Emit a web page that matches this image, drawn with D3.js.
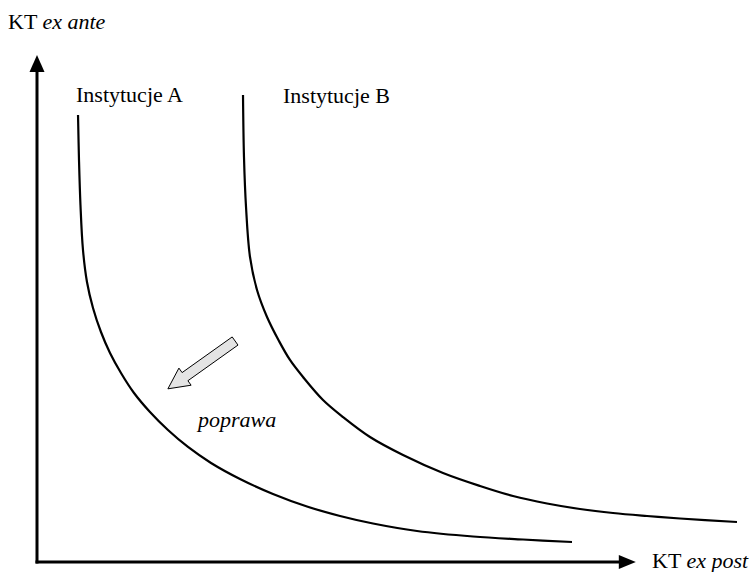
<!DOCTYPE html>
<html><head><meta charset="utf-8">
<script src="https://cdn.jsdelivr.net/npm/d3@7"></script>
<style>
svg text, svg tspan { font-family: "Liberation Serif", Tinos, "Times New Roman", serif !important; }
</style>
</head><body style="margin:0">
<script>
// Data (abstract units 0..100 on both axes)
const curveA_x = [5.86, 6.0, 6.21, 6.57, 7.14, 8.0, 9.14, 10.43, 12.0, 13.86, 16.14, 18.71, 21.57, 24.86, 29.0, 33.71, 38.57, 43.29, 48.0, 54.29, 62.29, 69.43, 76.43];
const curveA_y = [85.96, 77.31, 68.65, 60.0, 53.85, 48.85, 44.23, 40.19, 36.35, 32.5, 28.85, 25.38, 22.12, 19.04, 15.96, 13.08, 10.67, 8.85, 7.4, 5.96, 4.9, 4.33, 3.85];
const curveB_x = [29.43, 29.57, 29.86, 30.43, 31.43, 32.86, 34.57, 36.14, 38.0, 40.86, 43.71, 47.57, 52.29, 58.0, 63.29, 68.0, 72.86, 77.57, 82.29, 87.14, 91.86, 100];
const curveB_y = [89.81, 77.88, 68.27, 58.65, 52.31, 47.12, 42.5, 38.85, 35.58, 31.15, 27.88, 24.04, 20.58, 17.12, 14.62, 12.69, 11.25, 10.19, 9.42, 8.85, 8.37, 7.69];
const seriesNames = ["Instytucje A", "Instytucje B"];
const arrowFrom = [28.3, 42.5];
const arrowTo = [18.7, 33.3];
const axisMax = [85.4, 97.3];

const W = 750, H = 572;
const svg = d3.select("body").append("svg").attr("width", W).attr("height", H).style("display", "block")
  .attr("font-family", "Liberation Serif");
const x = d3.scaleLinear().domain([0, 100]).range([37, 737]);
const y = d3.scaleLinear().domain([0, 100]).range([562, 42]);
const FONT = "'Liberation Serif', Tinos, 'Times New Roman', serif";

// axes
const x0 = x(0), y0 = y(0), xe = x(axisMax[0]), ye = y(axisMax[1]);
svg.append("line").attr("x1", x0).attr("y1", y0 + 1.5).attr("x2", x0).attr("y2", ye + 12)
  .attr("stroke", "#000").attr("stroke-width", 3);
svg.append("line").attr("x1", x0 - 1.5).attr("y1", y0).attr("x2", xe - 12).attr("y2", y0)
  .attr("stroke", "#000").attr("stroke-width", 3);
svg.append("path").attr("d", `M${x0},${ye - 1} L${x0 + 7.5},${ye + 16} L${x0 - 7.5},${ye + 16} Z`).attr("fill", "#000");
svg.append("path").attr("d", `M${xe + 1},${y0} L${xe - 16},${y0 - 7} L${xe - 16},${y0 + 7} Z`).attr("fill", "#000");

const line = d3.line().x(d => x(d[0])).y(d => y(d[1])).curve(d3.curveCatmullRom.alpha(0.5));
const A = curveA_x.map((v, i) => [v, curveA_y[i]]);
const B = curveB_x.map((v, i) => [v, curveB_y[i]]);
[A, B].forEach(pts => {
  svg.append("path").attr("d", line(pts)).attr("fill", "none").attr("stroke", "#000").attr("stroke-width", 2.2);
});

// block arrow
(function () {
  const ax0 = x(arrowFrom[0]), ay0 = y(arrowFrom[1]), ax1 = x(arrowTo[0]), ay1 = y(arrowTo[1]);
  const dx = ax1 - ax0, dy = ay1 - ay0, L = Math.hypot(dx, dy);
  const ux = dx / L, uy = dy / L, nx = -uy, ny = ux;
  const sw = 5, hw = 10.5, hl = 21;
  const bx = ax1 - ux * hl, by = ay1 - uy * hl;
  const pts = [
    [ax0 + nx * sw, ay0 + ny * sw], [bx + nx * sw, by + ny * sw], [bx + nx * hw, by + ny * hw],
    [ax1, ay1], [bx - nx * hw, by - ny * hw], [bx - nx * sw, by - ny * sw], [ax0 - nx * sw, ay0 - ny * sw]
  ];
  svg.append("polygon").attr("points", pts.map(p => p.join(",")).join(" "))
    .attr("fill", "#e4e4e4").attr("stroke", "#000").attr("stroke-width", 1);
})();

// labels
function label(px, py, parts) {
  const t = svg.append("text").attr("x", px).attr("y", py).attr("font-size", 22)
    .attr("fill", "#000").attr("font-family", "Liberation Serif");
  t.node().style.setProperty("font-family", FONT, "important");
  parts.forEach(p => {
    const s = t.append("tspan").text(p[0]);
    s.node().style.setProperty("font-style", p[1] ? "italic" : "normal", "important");
    s.node().style.setProperty("font-family", FONT, "important");
  });
}
label(8, 29, [["KT ", false], ["ex ante", true]]);
label(652, 568, [["KT ", false], ["ex post", true]]);
label(76, 102, [[seriesNames[0], false]]);
label(283, 103, [[seriesNames[1], false]]);
label(198, 427, [["poprawa", true]]);
</script>
</body></html>
